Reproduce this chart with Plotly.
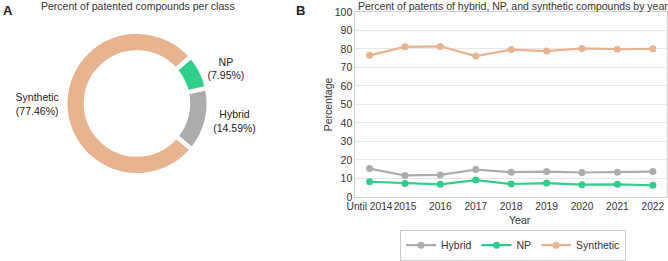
import plotly.graph_objects as go

# ---- data ----
pie_labels = ["Hybrid", "NP", "Synthetic"]
pie_values = [14.59, 7.95, 77.46]

years = ["Until 2014", "2015", "2016", "2017", "2018", "2019", "2020", "2021", "2022"]
hybrid = [15.3, 11.6, 11.9, 14.8, 13.4, 13.7, 13.2, 13.4, 13.7]
np_vals = [8.2, 7.3, 6.8, 9.1, 7.0, 7.5, 6.6, 6.8, 6.3]
synthetic = [76.5, 81.1, 81.3, 76.1, 79.6, 78.8, 80.2, 79.8, 80.0]

colors = {"Hybrid": "#acacac", "NP": "#2fce8c", "Synthetic": "#e8b38f"}
FONT = "Liberation Sans, Arial, sans-serif"

fig = go.Figure()

fig.add_trace(go.Pie(
    labels=pie_labels, values=pie_values,
    text=[f"{l}<br>({v:.2f}%)" for l, v in zip(pie_labels, pie_values)],
    textinfo="text", textposition="outside",
    hole=0.71, sort=False, direction="counterclockwise", rotation=77.5,
    marker=dict(colors=[colors[l] for l in pie_labels], line=dict(color="white", width=4.5)),
    textfont=dict(size=10.5, color="#222222", family=FONT),
    domain=dict(x=[0.0958, 0.3144], y=[0.318, 0.877]),
    showlegend=False, automargin=False, hoverinfo="skip",
))

for name, vals in [("Hybrid", hybrid), ("NP", np_vals), ("Synthetic", synthetic)]:
    fig.add_trace(go.Scatter(
        x=years, y=vals, name=name, mode="lines+markers",
        line=dict(color=colors[name], width=2.2),
        marker=dict(color=colors[name], size=7),
        xaxis="x", yaxis="y",
    ))

grid = "#e6e6e6"
fig.update_layout(
    width=668, height=261,
    margin=dict(l=0, r=0, t=0, b=0),
    paper_bgcolor="white", plot_bgcolor="white",
    font=dict(family=FONT, size=10.5, color="#333333"),
    xaxis=dict(domain=[0.532, 0.9985], range=[-0.4, 8.4], type="category",
               showgrid=False, showline=True, linecolor="#d0d0d0", mirror=True,
               ticks="", tickangle=0, automargin=False,
               tickfont=dict(size=10.2, color="#333333")),
    yaxis=dict(domain=[0.2337, 0.954], range=[0, 100], dtick=10,
               showgrid=True, gridcolor=grid, zeroline=False,
               showline=True, linecolor="#d0d0d0", mirror=True,
               ticks="", automargin=False,
               tickfont=dict(size=10.5, color="#333333")),
    legend=dict(orientation="h", x=0.768, xanchor="center", y=0.046, yanchor="middle",
                bordercolor="#cccccc", borderwidth=1, font=dict(size=10.5),
                itemwidth=30, tracegroupgap=0),
    annotations=[
        dict(text="<b>A</b>", x=0.002, y=0.995, xref="paper", yref="paper",
             xanchor="left", yanchor="top", showarrow=False, font=dict(size=13, color="#222")),
        dict(text="<b>B</b>", x=0.44, y=0.995, xref="paper", yref="paper",
             xanchor="left", yanchor="top", showarrow=False, font=dict(size=13, color="#222")),
        dict(text="Percent of patented compounds per class", x=0.207, y=1.008,
             xref="paper", yref="paper", xanchor="center", yanchor="top",
             showarrow=False, font=dict(size=10.5, color="#333")),
        dict(text="Percent of patents of hybrid, NP, and synthetic compounds by year", x=0.768, y=1.008,
             xref="paper", yref="paper", xanchor="center", yanchor="top",
             showarrow=False, font=dict(size=10.5, color="#333")),
        dict(text="Year", x=0.778, y=0.143, xref="paper", yref="paper",
             xanchor="center", yanchor="middle", showarrow=False,
             font=dict(size=10.5, color="#333")),
        dict(text="Percentage", x=0.491, y=0.594, xref="paper", yref="paper",
             xanchor="center", yanchor="middle", showarrow=False, textangle=-90,
             font=dict(size=10.5, color="#333")),
    ],
)

fig.write_html("out.html",
               config={"displayModeBar": False},
               post_script="document.body.style.margin='0';document.body.style.overflow='hidden';")
